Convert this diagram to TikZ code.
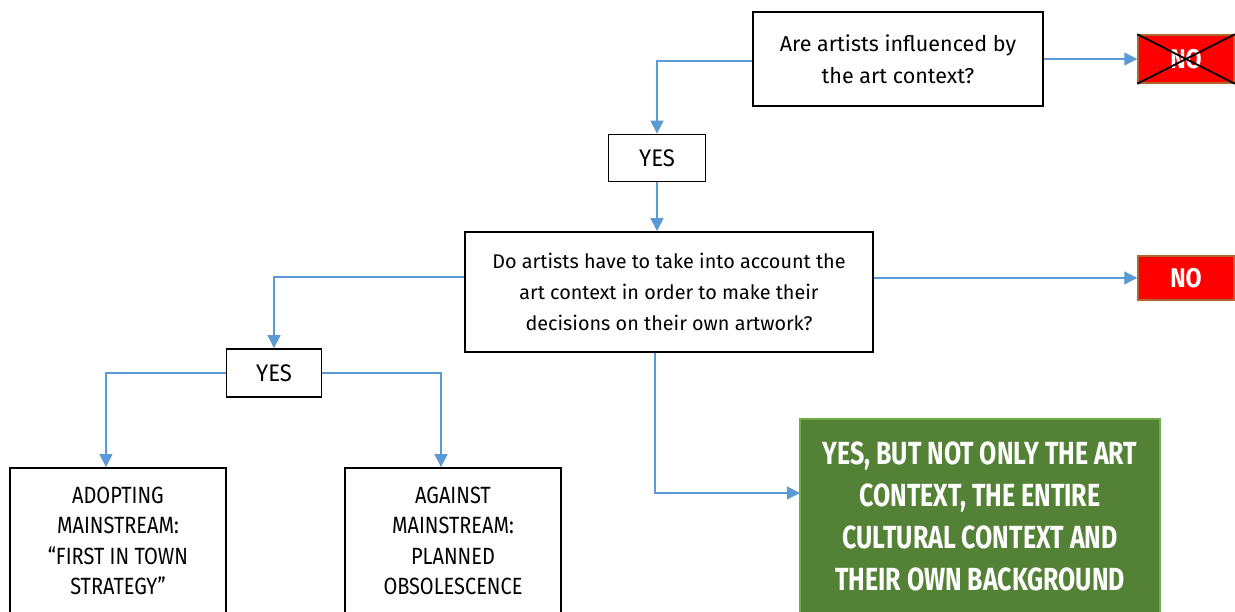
\documentclass[tikz,border=0pt]{standalone}
\usepackage{fontspec}
\setmainfont{Fira Sans}
\newfontfamily\qfont[FakeStretch=1.0]{Fira Sans}
\newfontfamily\yfont[FakeStretch=0.92]{Fira Sans}
\newfontfamily\lfont[FakeStretch=0.85]{Fira Sans}
\newfontfamily\gfont[FakeStretch=0.78]{Fira Sans}
\newfontfamily\nfont[FakeStretch=0.86]{Fira Sans}
\usetikzlibrary{arrows.meta}
\definecolor{arrblue}{HTML}{5B9BD5}
\definecolor{nored}{HTML}{FF0000}
\definecolor{nobrown}{HTML}{B0672F}
\definecolor{ggreen}{HTML}{538135}
\definecolor{gborder}{HTML}{70AD47}
\begin{document}
\begin{tikzpicture}[x=1pt,y=-1pt,
  qbox/.style={draw=black,line width=1.8pt,fill=white,align=center,inner sep=0pt,
    font=\qfont\fontsize{21.5}{31.5}\selectfont},
  qboxs/.style={qbox,font=\qfont\fontsize{19.8}{31}\selectfont},
  ybox/.style={draw=black,line width=1.8pt,fill=white,inner sep=0pt,
    font=\yfont\fontsize{24}{26}\selectfont},
  nobox/.style={draw=nobrown,line width=1.5pt,fill=nored,text=white,inner sep=0pt,
    font=\nfont\fontsize{27}{28}\selectfont\bfseries,minimum width=96pt,minimum height=48pt},
  leaf/.style={draw=black,line width=1.8pt,fill=white,align=center,inner sep=0pt,
    font=\lfont\fontsize{23.5}{30.5}\selectfont,minimum width=216pt,minimum height=146pt},
  gbox/.style={draw=gborder,line width=1.2pt,fill=ggreen,text=white,align=center,inner sep=0pt,
    font=\gfont\fontsize{32}{42}\selectfont\bfseries,minimum width=360pt,minimum height=194pt},
  arr/.style={draw=arrblue,line width=1.2pt,-{Triangle[length=13pt,width=13pt]}}
]
\clip (0,0) rectangle (1235,612);
\useasboundingbox (0,0) rectangle (1235,612);
\fill[white] (0,0) rectangle (1235,612);

\node[qbox,minimum width=290pt,minimum height=94pt] (q1) at (898,59)
  {Are artists influenced by\\the art context?};
\node[nobox] (no1) at (1186,59) {NO};
\draw[line width=1.8pt] (no1.north west) -- (no1.south east)
  (no1.south west) -- (no1.north east);
\node[ybox,minimum width=97pt,minimum height=47pt] (yes1) at (657,158) {YES};
\node[qboxs,minimum width=408pt,minimum height=120pt] (q2) at (669,292)
  {Do artists have to take into account the\\art context in order to make their\\decisions on their own artwork?};
\node[nobox,minimum height=44pt] (no2) at (1186,278) {NO};
\node[ybox,minimum width=95pt,minimum height=48pt] (yes2) at (274,373) {YES};
\node[leaf] (a) at (118,541)
  {ADOPTING\\MAINSTREAM:\\“FIRST IN TOWN\\STRATEGY”};
\node[leaf] (b) at (453,541)
  {AGAINST\\MAINSTREAM:\\PLANNED\\OBSOLESCENCE};
\node[gbox] (g) at (980,516)
  {YES, BUT NOT ONLY THE ART\\CONTEXT, THE ENTIRE\\CULTURAL CONTEXT AND\\THEIR OWN BACKGROUND};

\coordinate (gin) at (800,493);
\draw[arr] (q1.east) -- (no1.west);
\draw[arr] ([yshift=-2pt]q1.west) -| (yes1.north);
\draw[arr] (yes1.south) -- (q2.north -| yes1.south);
\draw[arr] (q2.east |- no2.west) -- (no2.west);
\draw[arr] ([yshift=15pt]q2.west) -| (yes2.north);
\draw[arr] (yes2.west) -| (a.north -| 106,0);
\draw[arr] (yes2.east) -| (b.north -| 441,0);
\draw[arr] (q2.south -| 655,0) |- (gin);
\end{tikzpicture}
\end{document}
